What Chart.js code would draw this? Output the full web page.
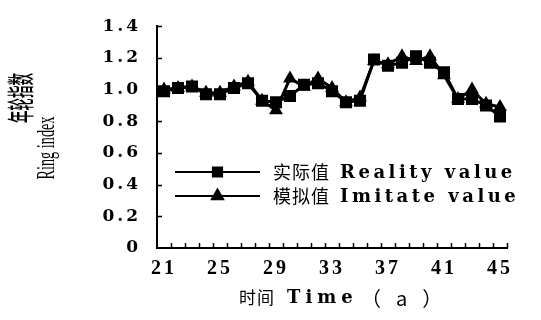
<!DOCTYPE html>
<html>
<head>
<meta charset="utf-8">
<script src="https://cdn.jsdelivr.net/npm/chart.js@4/dist/chart.umd.min.js"></script>
<style>
  html, body { margin: 0; padding: 0; background: #fff; }
  canvas { display: block; }
</style>
</head>
<body>
<canvas id="ring" width="541" height="320"></canvas>
<script>
// Years on the time axis (a)
const years = ['21','22','23','24','25','26','27','28','29','30','31','32','33',
               '34','35','36','37','38','39','40','41','42','43','44','45'];
// Measured ring index
const realityValues = [0.99, 1.01, 1.02, 0.97, 0.97, 1.01, 1.04, 0.93, 0.92, 0.96, 1.03, 1.04, 0.99,
                       0.92, 0.93, 1.19, 1.15, 1.17, 1.21, 1.17, 1.11, 0.94, 0.94, 0.90, 0.83];
// Simulated ring index
const imitateValues = [1.00, 1.01, 1.02, 0.98, 0.98, 1.02, 1.05, 0.93, 0.87, 1.07, 1.02, 1.07, 1.01,
                       0.92, 0.95, 1.18, 1.16, 1.21, 1.18, 1.21, 1.09, 0.94, 1.00, 0.91, 0.89];
// Labelled years on the x axis and values on the y axis
const xTickLabels = ['21','25','29','33','37','41','45'];
const yTickValues = [0, 0.2, 0.4, 0.6, 0.8, 1.0, 1.2, 1.4];

const seriesNames = ['实际值', '模拟值'];
const seriesNamesEn = ['Reality value', 'Imitate value'];
const yTitle = ['年轮指数', 'Ring index'];
const xTitle = ['时间', 'Time', '（a）'];

const INK = '#000';
const SERIF = '"Liberation Serif", "Times New Roman", serif';
const WIDE_SERIF = '"DejaVu Serif", serif';
const CJK = '"Noto Sans CJK SC", sans-serif';

// Wider letter spacing for all chart text, as in the printed figure
const spacing = {
  id: 'spacing',
  beforeUpdate(chart) { chart.ctx.letterSpacing = '3px'; },
  beforeDraw(chart) { chart.ctx.letterSpacing = '3px'; }
};

// Short inward tick marks on both axes
const innerTicks = {
  id: 'innerTicks',
  afterDraw(chart) {
    const { ctx, scales: { x, y } } = chart;
    ctx.save();
    ctx.strokeStyle = INK;
    ctx.lineWidth = 1.5;
    ctx.beginPath();
    for (let i = 0; i < years.length; i++) {
      const a = x.getPixelForValue(i);
      const b = i + 1 < years.length ? x.getPixelForValue(i + 1) : a + (a - x.getPixelForValue(i - 1));
      const px = Math.round((a + b) / 2) + 0.5;
      ctx.moveTo(px, y.bottom);
      ctx.lineTo(px, y.bottom - 5);
    }
    yTickValues.forEach(v => {
      if (v === 0) return;
      const py = Math.round(y.getPixelForValue(v)) + 0.5;
      ctx.moveTo(x.left, py);
      ctx.lineTo(x.left + 5, py);
    });
    ctx.stroke();
    ctx.restore();
  }
};

// Axis titles and the in-plot legend
const annotations = {
  id: 'annotations',
  afterDraw(chart) {
    const { ctx, chartArea: area, data } = chart;
    ctx.save();
    ctx.fillStyle = INK;
    ctx.textBaseline = 'middle';

    // y-axis title: two condensed lines reading bottom to top
    const vText = (txt, cx, cy, fontSpec, len) => {
      ctx.save();
      ctx.letterSpacing = '0px';
      ctx.font = fontSpec;
      const natural = ctx.measureText(txt).width;
      ctx.textAlign = 'left';
      ctx.textBaseline = 'middle';
      ctx.translate(cx, cy);
      ctx.rotate(-Math.PI / 2);
      ctx.scale(len / natural, 1);
      ctx.fillText(txt, -natural / 2, 0);
      ctx.restore();
    };
    vText(yTitle[0], 21, 98, '500 27px ' + CJK, 50);
    vText(yTitle[1], 47, 148, '26px ' + SERIF, 63);

    // x-axis title
    ctx.textAlign = 'left';
    ctx.letterSpacing = '1px';
    ctx.font = '17px ' + CJK;
    ctx.fillText(xTitle[0], 239, 298);
    ctx.letterSpacing = '5px';
    ctx.font = 'bold 18px ' + WIDE_SERIF;
    ctx.fillText(xTitle[1], 287, 298);
    ctx.letterSpacing = '15px';
    ctx.font = '20px ' + CJK;
    ctx.fillText(xTitle[2], 361, 298);

    // legend rows: line sample with marker, then name
    const rows = [172, 196];
    data.datasets.forEach((ds, i) => {
      const ly = rows[i];
      const x0 = area.left + 18, x1 = area.left + 103;
      ctx.strokeStyle = INK;
      ctx.lineWidth = 2;
      ctx.beginPath();
      ctx.moveTo(x0, ly);
      ctx.lineTo(x1, ly);
      ctx.stroke();
      Chart.helpers.drawPoint(ctx, {
        pointStyle: ds.pointStyle, radius: 6.5, rotation: 0, borderWidth: 1
      }, (x0 + x1) / 2, ly);
      ctx.fill();
      ctx.letterSpacing = '1px';
      ctx.font = '18px ' + CJK;
      ctx.fillText(seriesNames[i], 273, ly);
      ctx.letterSpacing = '3.5px';
      ctx.font = 'bold 18px ' + WIDE_SERIF;
      ctx.fillText(seriesNamesEn[i], 340, ly + 1);
    });
    ctx.restore();
  }
};

new Chart(document.getElementById('ring'), {
  type: 'line',
  data: {
    labels: years,
    datasets: [
      {
        label: seriesNames[0] + ' ' + seriesNamesEn[0],
        data: realityValues,
        borderColor: INK, backgroundColor: INK,
        borderWidth: 3, pointStyle: 'rect', pointRadius: 8.5,
        pointBorderWidth: 0, tension: 0
      },
      {
        label: seriesNames[1] + ' ' + seriesNamesEn[1],
        data: imitateValues,
        borderColor: INK, backgroundColor: INK,
        borderWidth: 3, pointStyle: 'triangle', pointRadius: 8,
        pointBorderWidth: 0, tension: 0
      }
    ]
  },
  options: {
    responsive: false,
    animation: false,
    events: [],
    layout: { padding: { top: 15, right: 34, left: 0, bottom: 0 } },
    plugins: { legend: { display: false }, tooltip: { enabled: false } },
    scales: {
      x: {
        type: 'category',
        offset: true,
        grid: { display: true, drawOnChartArea: false, drawTicks: false, offset: true, color: 'rgba(0,0,0,0)' },
        border: { display: true, color: INK, width: 2 },
        ticks: {
          autoSkip: false, maxRotation: 0, minRotation: 0, padding: 9,
          color: INK, font: { family: SERIF, size: 20, weight: 'bold' },
          callback: (v, i) => xTickLabels.includes(years[i]) ? years[i] : ''
        },
        afterFit: s => { s.height = 72; }
      },
      y: {
        min: 0, max: 1.4,
        afterBuildTicks: s => { s.ticks = yTickValues.map(v => ({ value: v })); },
        grid: { display: true, drawOnChartArea: false, drawTicks: false, color: 'rgba(0,0,0,0)' },
        border: { display: true, color: INK, width: 2 },
        ticks: {
          padding: 16, color: INK, font: { family: WIDE_SERIF, size: 17, weight: 'bold' },
          callback: v => v === 0 ? '0' : v.toFixed(1)
        },
        afterFit: s => { s.width = 157; }
      }
    }
  },
  plugins: [spacing, innerTicks, annotations]
});
</script>
</body>
</html>
